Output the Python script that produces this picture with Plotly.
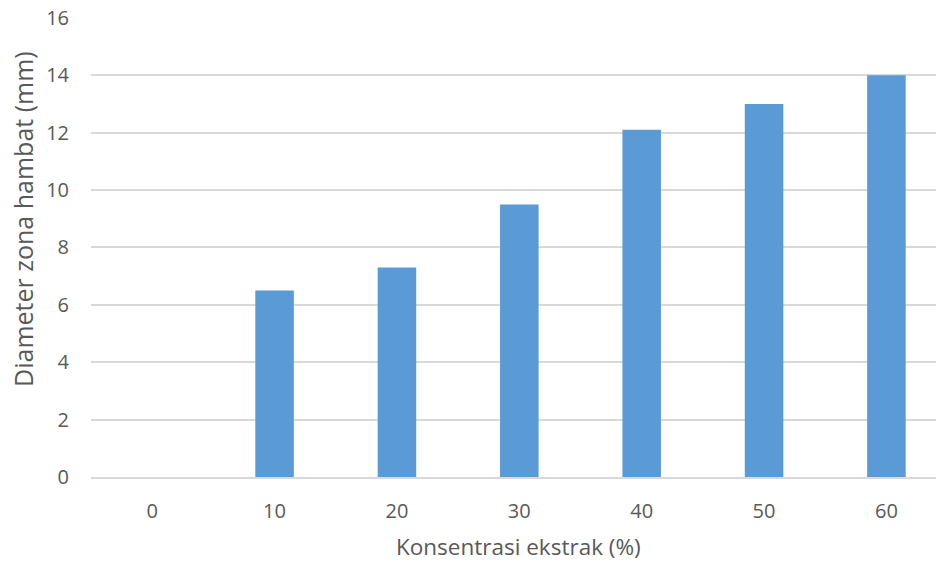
import plotly.graph_objects as go

# Extract concentration (%) and inhibition zone diameter (mm)
konsentrasi = ["0", "10", "20", "30", "40", "50", "60"]
diameter = [0, 6.5, 7.3, 9.5, 12.1, 13, 14]

y_ticks = [0, 2, 4, 6, 8, 10, 12, 14, 16]

x_title = "Konsentrasi ekstrak (%)"
y_title = "Diameter zona hambat (mm)"

font_family = "Open Sans, Lato, sans-serif"
text_color = "#595959"
grid_color = "#d9d9d9"

fig = go.Figure(
    go.Bar(
        x=konsentrasi,
        y=diameter,
        marker=dict(color="#5b9bd5", line=dict(width=0)),
    )
)

fig.update_layout(
    width=939,
    height=563,
    margin=dict(l=91, r=3, t=17, b=86),
    paper_bgcolor="white",
    plot_bgcolor="white",
    bargap=0.685,
    showlegend=False,
    font=dict(family=font_family, color=text_color, size=20),
    annotations=[
        dict(
            text=x_title, xref="paper", yref="paper", x=0.506, y=-0.152,
            xanchor="center", yanchor="middle", showarrow=False,
            font=dict(size=22.5, color=text_color),
        ),
        dict(
            text=y_title, xref="paper", yref="paper", x=0, y=0.561, xshift=-68,
            xanchor="center", yanchor="middle", textangle=-90, showarrow=False,
            font=dict(size=25, color=text_color),
        ),
    ],
)

fig.update_xaxes(
    type="category",
    range=[-0.5, 6.405],
    showgrid=False,
    showline=True,
    linecolor=grid_color,
    linewidth=1.5,
    ticks="",
    ticklabelstandoff=15,
    tickfont=dict(size=20, color=text_color),
)

fig.update_yaxes(
    range=[0, 16.03],
    tickvals=y_ticks,
    showgrid=True,
    gridcolor=grid_color,
    gridwidth=1.5,
    zeroline=False,
    showline=False,
    ticks="",
    ticklabelstandoff=21,
    tickfont=dict(size=20, color=text_color),
)

fig.write_html("out.html")
